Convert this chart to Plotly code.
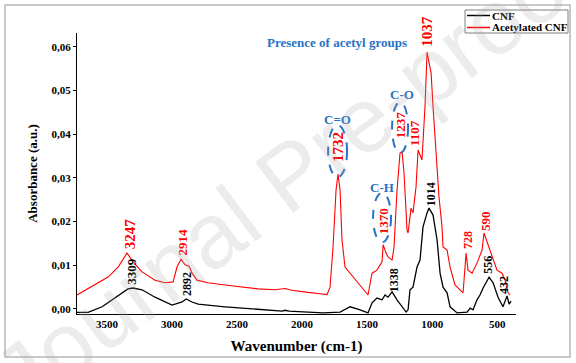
import plotly.graph_objects as go

# ---------------- data ----------------
wn_acetyl = [3731, 3592, 3492, 3415, 3362, 3346, 3300, 3231, 3131, 3054, 2992, 2962, 2931, 2900,
             2869, 2846, 2808, 2723, 2593, 2462, 2339, 2208, 2131, 2080, 2016, 1954, 1862, 1808,
             1785, 1762, 1739, 1724, 1708, 1693, 1670, 1631, 1593, 1539, 1493, 1462, 1424, 1385,
             1377, 1354, 1339, 1308, 1293, 1270, 1247, 1231, 1216, 1193, 1185, 1162, 1147, 1124,
             1108, 1078, 1055, 1039, 1008, 993, 970, 947, 924, 916, 885, 862, 824, 762, 739, 724,
             693, 655, 616, 601, 570, 539, 501, 462, 439, 416, 401]
abs_acetyl = [0.0032, 0.0055, 0.0073, 0.0096, 0.0119, 0.0128, 0.0108, 0.0085, 0.0066, 0.0060,
              0.0062, 0.0096, 0.0114, 0.0101, 0.0098, 0.0082, 0.0066, 0.0060, 0.0055, 0.0050,
              0.0046, 0.0044, 0.0047, 0.0043, 0.0040, 0.0038, 0.0035, 0.0033, 0.0050, 0.0142,
              0.0272, 0.0309, 0.0272, 0.0158, 0.0096, 0.0082, 0.0066, 0.0048, 0.0032, 0.0082,
              0.0089, 0.0108, 0.0147, 0.0128, 0.0119, 0.0112, 0.0142, 0.0272, 0.0357, 0.0360,
              0.0311, 0.0181, 0.0174, 0.0231, 0.0220, 0.0279, 0.0364, 0.0341, 0.0463, 0.0588,
              0.0540, 0.0463, 0.0364, 0.0256, 0.0188, 0.0142, 0.0135, 0.0096, 0.0055, 0.0037,
              0.0128, 0.0089, 0.0082, 0.0105, 0.0135, 0.0174, 0.0147, 0.0119, 0.0089, 0.0082,
              0.0066, 0.0037, 0.0032]

wn_cnf = [3731, 3646, 3538, 3438, 3339, 3300, 3231, 3131, 3000, 2923, 2892, 2846, 2800, 2593,
          2339, 2154, 2131, 2100, 1954, 1839, 1708, 1631, 1554, 1493, 1462, 1424, 1385, 1362,
          1339, 1308, 1270, 1231, 1200, 1185, 1170, 1147, 1116, 1093, 1070, 1039, 1024, 993,
          962, 939, 916, 885, 862, 808, 731, 708, 685, 655, 632, 608, 562, 531, 493, 455, 424,
          408, 393]
abs_cnf = [-0.0008, -0.0008, 0.0005, 0.0025, 0.0046, 0.0048, 0.0044, 0.0027, 0.0009, 0.0016,
           0.0023, 0.0016, 0.0011, 0.0005, 0.0000, -0.0005, -0.0003, -0.0005, -0.0007, -0.0009,
           -0.0007, 0.0005, -0.0002, -0.0009, 0.0014, 0.0025, 0.0021, 0.0032, 0.0027, 0.0039,
           0.0021, 0.0005, -0.0007, -0.0002, 0.0044, 0.0050, 0.0096, 0.0112, 0.0188, 0.0220,
           0.0231, 0.0215, 0.0158, 0.0082, 0.0050, 0.0037, 0.0005, -0.0009, -0.0007, 0.0002,
           -0.0002, 0.0021, 0.0032, 0.0048, 0.0073, 0.0060, 0.0027, 0.0005, 0.0030, 0.0011,
           0.0018]

series_names = ["CNF", "Acetylated CNF"]

# peak labels (text, wavenumber position, absorbance position, series)
peak_text = ["3247", "2914", "1732", "1370", "1237", "1107", "1037", "728", "590",
             "3309", "2892", "1338", "1014", "556", "432"]
peak_wn = [3323, 2916, 1724, 1377, 1247, 1131, 1039, 724, 593,
           3308, 2885, 1293, 1008, 570, 447]
peak_abs = [0.0131, 0.0119, 0.0332, 0.0167, 0.0385, 0.0369, 0.0595, 0.0133, 0.0174,
            0.0050, 0.0025, 0.0034, 0.0231, 0.0076, 0.0030]
peak_series = [1, 1, 1, 1, 1, 1, 1, 1, 1, 0, 0, 0, 0, 0, 0]
peak_size = [15, 13, 15, 13, 13, 13, 15, 12, 13, 13, 12, 12, 12, 12, 12]

# functional-group callouts: label, text position, ellipse bounds (wn1, wn2, abs1, abs2)
group_text = ["C=O", "C-O", "C-H"]
group_wn = [1724, 1231, 1385]
group_abs = [0.0435, 0.0492, 0.0279]
group_ellipse = [(1800, 1654, 0.0302, 0.0421),
                 (1308, 1185, 0.0357, 0.0474),
                 (1454, 1316, 0.0153, 0.0266)]
title_text = "Presence of acetyl groups"

y_ticks = [0.0, 0.01, 0.02, 0.03, 0.04, 0.05, 0.06]
y_ticktext = ["0,00", "0,01", "0,02", "0,03", "0,04", "0,05", "0,06"]
x_ticks = [3500, 3000, 2500, 2000, 1500, 1000, 500]

# ---------------- styling ----------------
SERIF = "Liberation Serif, Times New Roman, serif"
colors = ["#000000", "#ff0000"]
blue = "#2a72c4"

# plot area pixel geometry
W, H = 576, 363
L, R, T, B = 77, 516, 33, 314
pw, ph = R - L, B - T


def px(xp):
    return (xp - L) / pw


def py(yp):
    return (B - yp) / ph


fig = go.Figure()
fig.add_trace(go.Scatter(x=wn_cnf, y=abs_cnf, mode="lines", name=series_names[0],
                         line=dict(color=colors[0], width=1.3), showlegend=False))
fig.add_trace(go.Scatter(x=wn_acetyl, y=abs_acetyl, mode="lines", name=series_names[1],
                         line=dict(color=colors[1], width=1.1), showlegend=False))

annotations = []
for t, xw, ya, s, fs in zip(peak_text, peak_wn, peak_abs, peak_series, peak_size):
    annotations.append(dict(x=xw, y=ya, xref="x", yref="y", text="<b>%s</b>" % t,
                            showarrow=False, textangle=-90, xanchor="center", yanchor="bottom",
                            font=dict(family=SERIF, size=fs, color=colors[s])))

shapes = []
for t, xw, ya, (x1, x2, y1, y2) in zip(group_text, group_wn, group_abs, group_ellipse):
    annotations.append(dict(x=xw, y=ya, xref="x", yref="y", text="<b>%s</b>" % t,
                            showarrow=False, font=dict(family=SERIF, size=13, color=blue)))
    shapes.append(dict(type="circle", xref="x", yref="y", x0=x1, x1=x2, y0=y1, y1=y2,
                       line=dict(color=blue, width=2, dash="dash")))

annotations.append(dict(x=1731, y=0.0611, xref="x", yref="y", text="<b>%s</b>" % title_text,
                        showarrow=False, font=dict(family=SERIF, size=13, color=blue)))

# outer frame
shapes.append(dict(type="rect", xref="paper", yref="paper", x0=px(5), x1=px(570), y0=py(357),
                   y1=py(5), line=dict(color="#b8b8b8", width=1.5), layer="above"))

# legend (drawn manually to mirror the original compact box)
shapes.append(dict(type="rect", xref="paper", yref="paper", x0=px(465), x1=px(568), y0=py(33),
                   y1=py(10), line=dict(color="#7f7f7f", width=1), fillcolor="white",
                   layer="above"))
for nm, c, yy in zip(series_names, colors, [15.5, 27.5]):
    shapes.append(dict(type="line", xref="paper", yref="paper", x0=px(467), x1=px(490),
                       y0=py(yy), y1=py(yy), line=dict(color=c, width=1.5), layer="above"))
    annotations.append(dict(x=px(490), y=py(yy), xref="paper", yref="paper",
                            text="<b>%s</b>" % nm, showarrow=False, xanchor="left",
                            yanchor="middle", font=dict(family=SERIF, size=11, color="black")))

# watermark
annotations.append(dict(x=px(290), y=py(175), xref="paper", yref="paper",
                        text="Journal Pre-proof", showarrow=False, textangle=-37,
                        font=dict(family="Liberation Sans, Arial, sans-serif", size=92,
                                  color="rgba(170,170,170,0.22)")))

fig.update_layout(
    width=W, height=H,
    margin=dict(l=L, r=W - R, t=T, b=H - B, pad=0, autoexpand=False),
    paper_bgcolor="white", plot_bgcolor="white",
    showlegend=False,
    annotations=annotations, shapes=shapes,
    xaxis=dict(range=[3731, 355], tickvals=x_ticks, ticktext=["<b>%d</b>" % v for v in x_ticks],
               showgrid=False, zeroline=False, showline=True, linecolor="black", linewidth=1,
               ticks="", automargin=False, tickfont=dict(family=SERIF, size=11, color="black"),
               title=dict(text="<b>Wavenumber (cm-1)</b>", standoff=11,
                          font=dict(family=SERIF, size=15, color="black"))),
    yaxis=dict(range=[-0.00115, 0.0632], tickvals=y_ticks,
               ticktext=["<b>%s</b>" % t for t in y_ticktext],
               showgrid=False, zeroline=False, showline=True, linecolor="black", linewidth=1,
               ticks="outside", ticklen=3, tickcolor="black", automargin=False,
               tickfont=dict(family=SERIF, size=11, color="black"),
               title=dict(text="<b>Absorbance (a.u.)</b>", standoff=10,
                          font=dict(family=SERIF, size=13, color="black"))),
)

fig.write_html("out.html", config={"displayModeBar": False},
               post_script="document.body.style.margin='0';document.body.style.overflow='hidden';")
